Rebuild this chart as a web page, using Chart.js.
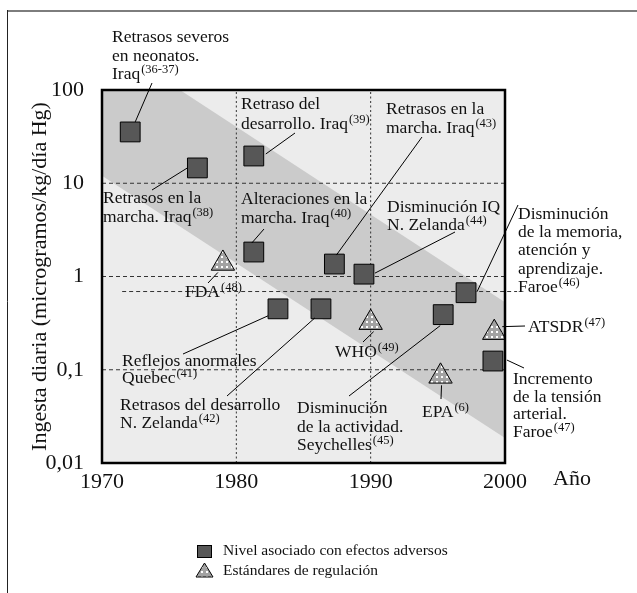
<!DOCTYPE html>
<html>
<head>
<meta charset="utf-8">
<script src="https://cdn.jsdelivr.net/npm/chart.js"></script>
<style>
  html, body { margin: 0; padding: 0; background: #fff; }
</style>
</head>
<body>
<canvas id="chartHg" width="637" height="593"></canvas>
<script>
// Ingesta diaria de mercurio: niveles con efectos adversos y estándares de regulación

// Datos
const adverseYears  = [1972.1, 1977.1, 1981.3, 1981.3, 1987.3, 1989.5, 1997.1, 1983.1, 1986.3, 1995.4, 1999.1];
const adverseValues = [35.5, 14.6, 19.6, 1.83, 1.36, 1.06, 0.67, 0.45, 0.45, 0.39, 0.124];
const adverseNotes = [
    ['Retrasos severos', 'en neonatos.', 'Iraq'],
    ['Retrasos en la', 'marcha. Iraq'],
    ['Retraso del', 'desarrollo. Iraq'],
    ['Alteraciones en la', 'marcha. Iraq'],
    ['Retrasos en la', 'marcha. Iraq'],
    ['Disminución IQ', 'N. Zelanda'],
    ['Disminución', 'de la memoria,', 'atención y', 'aprendizaje.', 'Faroe'],
    ['Reflejos anormales', 'Quebec'],
    ['Retrasos del desarrollo', 'N. Zelanda'],
    ['Disminución', 'de la actividad.', 'Seychelles'],
    ['Incremento', 'de la tensión', 'arterial.', 'Faroe']
];
const adverseRefs = ['36-37', '38', '39', '40', '43', '44', '46', '41', '42', '45', '47'];

const regYears  = [1979.0, 1990.0, 1999.2, 1995.2];
const regValues = [1.38, 0.32, 0.25, 0.085];
const regNotes  = [['FDA'], ['WHO'], ['ATSDR'], ['EPA']];
const regRefs   = ['48', '49', '47', '6'];

// banda gris (bordes superior e inferior)
const bandUpperYears  = [1975.8, 2000];
const bandUpperValues = [100, 0.53];
const bandLowerYears  = [1970, 2000];
const bandLowerValues = [12.0, 0.0185];

// línea de referencia punteada
const refLineYears  = [1971.5, 2000.9];
const refLineValues = [0.69, 0.69];

const xTickValues = [1970, 1980, 1990, 2000];
const yTickValues = [0.01, 0.1, 1, 10, 100];
const yTickText   = ['0,01', '0,1', '1', '10', '100'];
const xGridYears  = [1980, 1990];
const yGridValues = [0.1, 1, 10];

const yTitle = 'Ingesta diaria (microgramos/kg/día Hg)';
const xTitle = 'Año';
const legendText = ['Nivel asociado con efectos adversos', 'Estándares de regulación'];

// Posición de las notas (px): x, primera línea base, interlineado, inicio de guía (relativo al punto), fin de guía
const adverseLayout = [
    { x: 112, y: 42,  lh: 18.5, from: [5, -10],  to: [152, 83] },
    { x: 103, y: 203, lh: 19,   from: [-10, 0],  to: [152, 190] },
    { x: 241, y: 109, lh: 20,   from: [12, -2],  to: [295, 133] },
    { x: 241, y: 204, lh: 19,   from: [-2, -9],  to: [264, 229] },
    { x: 386, y: 114, lh: 18.5, from: [2, -9],   to: [422, 137] },
    { x: 387, y: 212, lh: 17.5, from: [11, -1],  to: [455, 232] },
    { x: 518, y: 219, lh: 18.2, from: [11, -1],  to: [518, 205] },
    { x: 122, y: 366, lh: 17,   from: [-10, 7],  to: [183, 354] },
    { x: 120, y: 410, lh: 18,   from: [-6, 9],   to: [227, 396] },
    { x: 297, y: 413, lh: 18.5, from: [-3, 11],  to: [349, 396] },
    { x: 513, y: 384, lh: 17.7, from: [14, -1],  to: [524, 368] }
];
const regLayout = [
    { x: 185, y: 297, lh: 18, from: [-5, 9], to: [208, 283] },
    { x: 335, y: 357, lh: 18, from: [3, 9],  to: [363, 342] },
    { x: 528, y: 332, lh: 18, from: [8, -6], to: [525, 326] },
    { x: 422, y: 417, lh: 18, from: [1, 9],  to: [441, 399] }
];

const FAMILY = '"Liberation Serif", "Times New Roman", serif';
const NOTE_FONT = '17.5px ' + FAMILY;
const SUP_FONT = '12.5px ' + FAMILY;
const INK = '#111';
const LIGHT = '#ececec';
const BAND = '#cbcbcb';
const SQUARE = '#575757';

// trama punteada para los triángulos
function makeDotPattern() {
    const c = document.createElement('canvas');
    c.width = 5; c.height = 5;
    const g = c.getContext('2d');
    g.fillStyle = '#a2a2a2';
    g.fillRect(0, 0, 5, 5);
    g.fillStyle = '#ffffff';
    g.fillRect(1, 1, 2, 2);
    return g.createPattern(c, 'repeat');
}
const dotPattern = makeDotPattern();

function toPoints(xs, ys) {
    return xs.map((x, i) => ({ x: x, y: ys[i] }));
}

function drawNote(ctx, lines, ref, lay) {
    ctx.fillStyle = INK;
    ctx.textAlign = 'left';
    ctx.textBaseline = 'alphabetic';
    lines.forEach((t, i) => {
        const by = lay.y + i * lay.lh;
        ctx.font = NOTE_FONT;
        ctx.fillText(t, lay.x, by);
        if (i === lines.length - 1 && ref) {
            const w = ctx.measureText(t).width;
            ctx.font = SUP_FONT;
            ctx.fillText('(' + ref + ')', lay.x + w + 1, by - 6);
        }
    });
}

function drawLeader(ctx, px, py, lay) {
    ctx.beginPath();
    ctx.moveTo(px + lay.from[0], py + lay.from[1]);
    ctx.lineTo(lay.to[0], lay.to[1]);
    ctx.stroke();
}

const decorPlugin = {
    id: 'decor',
    beforeDraw(chart) {
        const { ctx, chartArea: a } = chart;
        ctx.save();
        ctx.fillStyle = '#fff';
        ctx.fillRect(0, 0, chart.width, chart.height);
        // marco exterior
        ctx.strokeStyle = '#7d7d7d';
        ctx.lineWidth = 2;
        ctx.beginPath(); ctx.moveTo(7, 11); ctx.lineTo(chart.width, 11); ctx.stroke();
        ctx.strokeStyle = '#222';
        ctx.lineWidth = 1;
        ctx.beginPath(); ctx.moveTo(7.5, 10); ctx.lineTo(7.5, chart.height); ctx.stroke();
        // fondo de la banda
        ctx.fillStyle = BAND;
        ctx.fillRect(a.left, a.top, a.right - a.left, a.bottom - a.top);
        ctx.restore();
    },
    afterDatasetsDraw(chart) {
        const { ctx, chartArea: a, scales } = chart;
        ctx.save();
        // borde del área de trazado
        ctx.strokeStyle = '#000';
        ctx.lineWidth = 2.5;
        ctx.strokeRect(a.left, a.top, a.right - a.left, a.bottom - a.top);

        // guías y notas
        ctx.strokeStyle = '#000';
        ctx.lineWidth = 1;
        adverseYears.forEach((yr, i) => {
            const px = scales.x.getPixelForValue(yr);
            const py = scales.y.getPixelForValue(adverseValues[i]);
            drawLeader(ctx, px, py, adverseLayout[i]);
            drawNote(ctx, adverseNotes[i], adverseRefs[i], adverseLayout[i]);
        });
        regYears.forEach((yr, i) => {
            const px = scales.x.getPixelForValue(yr);
            const py = scales.y.getPixelForValue(regValues[i]);
            drawLeader(ctx, px, py, regLayout[i]);
            drawNote(ctx, regNotes[i], regRefs[i], regLayout[i]);
        });

        // título del eje x
        ctx.font = '22px ' + FAMILY;
        ctx.fillStyle = INK;
        ctx.fillText(xTitle, 553, 485);

        // leyenda
        ctx.lineWidth = 1;
        ctx.strokeStyle = '#000';
        ctx.fillStyle = SQUARE;
        ctx.fillRect(197.5, 545.5, 14, 12);
        ctx.strokeRect(197.5, 545.5, 14, 12);
        ctx.beginPath();
        ctx.moveTo(204.5, 563); ctx.lineTo(213, 577); ctx.lineTo(196, 577); ctx.closePath();
        ctx.fillStyle = dotPattern;
        ctx.fill();
        ctx.stroke();
        ctx.font = '15.5px ' + FAMILY;
        ctx.fillStyle = INK;
        ctx.fillText(legendText[0], 223, 555);
        ctx.fillText(legendText[1], 223, 575);
        ctx.restore();
    }
};

const gridStyleH = { showLine: true, borderColor: '#333', borderWidth: 1, borderDash: [4, 3], pointRadius: 0, fill: false };
const gridStyleV = { showLine: true, borderColor: '#333', borderWidth: 1, borderDash: [2, 2.5], pointRadius: 0, fill: false };

const datasets = [
    {
        label: legendText[0],
        data: toPoints(adverseYears, adverseValues),
        pointStyle: 'rect',
        pointRadius: 14,
        backgroundColor: SQUARE,
        borderColor: '#000',
        borderWidth: 1
    },
    {
        label: legendText[1],
        data: toPoints(regYears, regValues),
        pointStyle: 'triangle',
        pointRadius: 13.5,
        backgroundColor: dotPattern,
        borderColor: '#000',
        borderWidth: 1
    },
    Object.assign({ data: toPoints(refLineYears, refLineValues), clip: false }, gridStyleH),
    ...xGridYears.map(yr => Object.assign({ data: [{ x: yr, y: 0.01 }, { x: yr, y: 100 }] }, gridStyleV)),
    ...yGridValues.map(v => Object.assign({ data: [{ x: 1970, y: v }, { x: 2000, y: v }] }, gridStyleH)),
    {
        data: toPoints(bandUpperYears, bandUpperValues),
        showLine: true, pointRadius: 0, borderWidth: 0,
        backgroundColor: LIGHT, fill: 'end'
    },
    {
        data: toPoints(bandLowerYears, bandLowerValues),
        showLine: true, pointRadius: 0, borderWidth: 0,
        backgroundColor: LIGHT, fill: 'start'
    }
];

new Chart(document.getElementById('chartHg').getContext('2d'), {
    type: 'scatter',
    data: { datasets: datasets },
    options: {
        responsive: false,
        animation: false,
        events: [],
        layout: { padding: { top: 90, right: 132, left: 0, bottom: 0 } },
        plugins: {
            legend: { display: false },
            tooltip: { enabled: false },
            filler: { drawTime: 'beforeDatasetDraw' }
        },
        scales: {
            x: {
                type: 'linear',
                min: 1970,
                max: 2000,
                grid: { display: false },
                border: { display: false },
                ticks: {
                    font: { family: FAMILY, size: 22 },
                    color: INK,
                    padding: -2,
                    maxRotation: 0,
                    autoSkip: false,
                    callback: v => String(v)
                },
                afterBuildTicks: s => { s.ticks = xTickValues.map(v => ({ value: v })); },
                afterFit: s => { s.height = 130; }
            },
            y: {
                type: 'logarithmic',
                min: 0.01,
                max: 100,
                grid: { display: false },
                border: { display: false },
                ticks: {
                    font: { family: FAMILY, size: 22 },
                    color: INK,
                    padding: 10,
                    autoSkip: false,
                    callback: v => yTickText[yTickValues.indexOf(v)]
                },
                afterBuildTicks: s => { s.ticks = yTickValues.map(v => ({ value: v })); },
                afterFit: s => { s.width = 102; },
                title: {
                    display: true,
                    text: yTitle,
                    color: INK,
                    font: { family: FAMILY, size: 22 },
                    padding: { top: 27, bottom: 0 }
                }
            }
        }
    },
    plugins: [decorPlugin]
});
</script>
</body>
</html>
